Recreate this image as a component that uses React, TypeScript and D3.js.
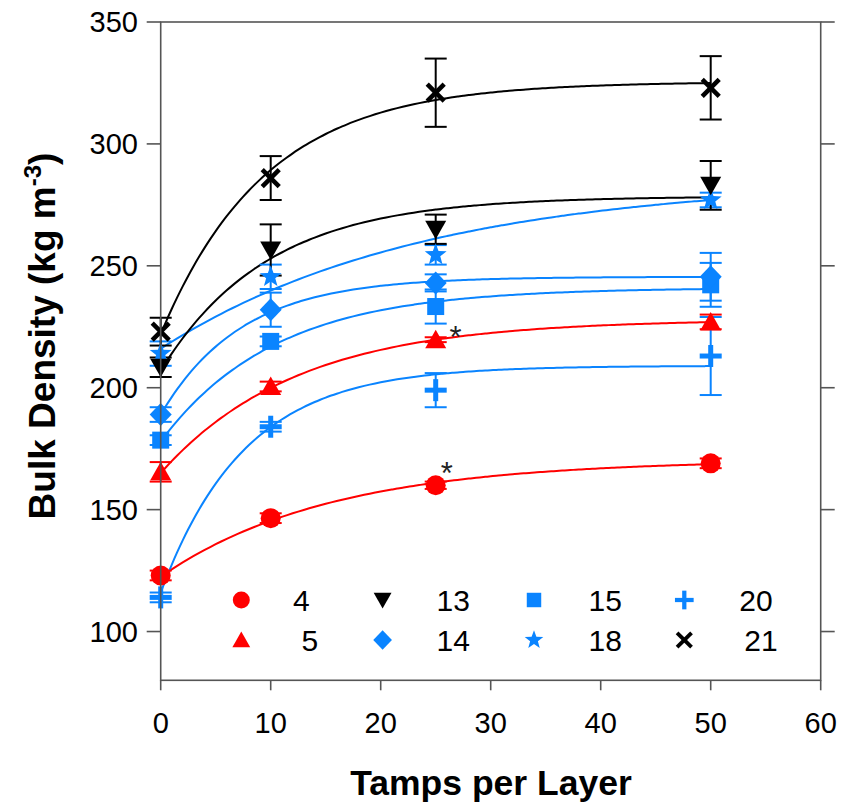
import React from "react";
import * as d3 from "d3";

// ---- data ----
const tamps = [0, 10, 25, 50];
const xTicks = [0, 10, 20, 30, 40, 50, 60];
const yTicks = [100, 150, 200, 250, 300, 350];

const mean4 = [123, 146.5, 160, 169];
const err4 = [2, 2, 1.5, 2];
const fit4 = [122.5, 48, 0.065];

const mean5 = [165.5, 200.5, 219.7, 227];
const err5 = [4, 2, 1, 3];
const fit5 = [165, 63, 0.081];

const mean13 = [208.4, 256.5, 265, 283];
const err13 = [4, 10.5, 6, 10];
const fit13 = [207, 71.5, 0.103];

const mean14 = [189, 232, 243, 245.5];
const err14 = [3, 7, 3.5, 9.8];
const fit14 = [189, 56.5, 0.136];

const mean15 = [178.5, 219, 233.3, 242.2];
const err15 = [2, 2, 7, 9];
const fit15 = [178, 63, 0.096];

const mean18 = [214, 245.5, 254.5, 277];
const err18 = [5, 5, 4, 3];
const fit18 = [216, 69.5, 0.042];

const mean20 = [114, 184, 199, 213];
const err20 = [2, 2, 7, 16];
const fit20 = [116, 93, 0.131];

const mean21 = [223, 286, 321, 323];
const err21 = [5.7, 9, 14, 13];
const fit21 = [222, 103.5, 0.105];

const seriesLabels = ["4", "5", "13", "14", "15", "18", "20", "21"];
const asterisks = [
  { x: 26.8, y: 222.8 },
  { x: 26.0, y: 167.0 },
];

// ---- styles ----
const RED = "#ff0000";
const BLUE = "#0a84ff";
const BLACK = "#000000";

type Shape = "circle" | "triUp" | "triDown" | "diamond" | "square" | "star" | "plus" | "cross";

const seriesData = [
  { label: "4", mean: mean4, err: err4, fit: fit4, color: RED, shape: "circle" as Shape },
  { label: "5", mean: mean5, err: err5, fit: fit5, color: RED, shape: "triUp" as Shape },
  { label: "20", mean: mean20, err: err20, fit: fit20, color: BLUE, shape: "plus" as Shape },
  { label: "15", mean: mean15, err: err15, fit: fit15, color: BLUE, shape: "square" as Shape },
  { label: "14", mean: mean14, err: err14, fit: fit14, color: BLUE, shape: "diamond" as Shape },
  { label: "18", mean: mean18, err: err18, fit: fit18, color: BLUE, shape: "star" as Shape },
  { label: "13", mean: mean13, err: err13, fit: fit13, color: BLACK, shape: "triDown" as Shape },
  { label: "21", mean: mean21, err: err21, fit: fit21, color: BLACK, shape: "cross" as Shape },
];

const legendRows = [
  ["4", "13", "15", "20"],
  ["5", "14", "18", "21"],
];

const W = 841;
const H = 809;
const X0 = 160.7, X1 = 820.7, Y0 = 680.3, Y1 = 22;
const FONT = "Liberation Sans, Arial, Helvetica, sans-serif";

const x = d3.scaleLinear().domain([0, 60]).range([X0, X1]);
const y = d3.scaleLinear().domain([80, 350]).range([Y0, Y1]);

function Marker({ shape, color, cx, cy, k = 1 }: { shape: Shape; color: string; cx: number; cy: number; k?: number }) {
  const t = `translate(${cx},${cy}) scale(${k})`;
  switch (shape) {
    case "circle":
      return <circle transform={t} r={10} fill={color} />;
    case "triUp":
      return <path transform={t} d="M0,-10 L10.5,8.5 L-10.5,8.5 Z" fill={color} />;
    case "triDown":
      return <path transform={t} d="M0,10 L10.5,-8.5 L-10.5,-8.5 Z" fill={color} />;
    case "square":
      return <rect transform={t} x={-8.5} y={-8.5} width={17} height={17} fill={color} />;
    case "diamond":
      return <path transform={t} d="M0,-11.5 L11,0 L0,11.5 L-11,0 Z" fill={color} />;
    case "star": {
      const pts: string[] = [];
      for (let i = 0; i < 10; i++) {
        const r = i % 2 === 0 ? 11.5 : 4.8;
        const a = -Math.PI / 2 + (i * Math.PI) / 5;
        pts.push(`${(r * Math.cos(a)).toFixed(2)},${(r * Math.sin(a)).toFixed(2)}`);
      }
      return <path transform={t} d={`M${pts.join("L")}Z`} fill={color} />;
    }
    case "plus":
      return (
        <g transform={t} stroke={color} strokeWidth={5}>
          <line x1={-11} x2={11} y1={0} y2={0} />
          <line x1={0} x2={0} y1={-11} y2={11} />
        </g>
      );
    case "cross":
      return (
        <g transform={t} stroke={color} strokeWidth={4.5}>
          <line x1={-8.5} x2={8.5} y1={-8.5} y2={8.5} />
          <line x1={-8.5} x2={8.5} y1={8.5} y2={-8.5} />
        </g>
      );
  }
  return null;
}

export default function App() {
  const line = d3
    .line<[number, number]>()
    .x((d) => x(d[0]))
    .y((d) => y(d[1]))
    .curve(d3.curveBasis);

  const fitPath = (fit: number[]) => {
    const [b0, a, k] = fit;
    const pts: [number, number][] = d3.range(0, 50.01, 0.5).map((t) => [t, b0 + a * (1 - Math.exp(-k * t))]);
    return line(pts) || "";
  };

  const byLabel = new Map(seriesData.map((s) => [s.label, s]));
  const legendMarkX = [241.3, 382.6, 534, 684.3];
  const legendTextX: Record<string, number> = {
    "4": 301.4, "5": 309.8, "13": 453.3, "14": 453.3, "15": 605.2, "18": 605.2, "20": 756, "21": 761,
  };
  const legendY = [600, 640];

  const frameColor = "#555";

  return (
    <svg width={W} height={H} style={{ position: "absolute", left: 0, top: 0, background: "#fff" }} fontFamily={FONT}>
      {/* fitted curves */}
      {seriesData.map((s) => (
        <path key={"c" + s.label} d={fitPath(s.fit)} fill="none" stroke={s.color} strokeWidth={2} />
      ))}
      {/* error bars */}
      {seriesData.map((s) => (
        <g key={"e" + s.label} stroke={s.color} strokeWidth={2}>
          {tamps.map((t, i) => {
            const cx = x(t);
            const yt = y(s.mean[i] + s.err[i]);
            const yb = y(s.mean[i] - s.err[i]);
            return (
              <g key={i}>
                <line x1={cx} x2={cx} y1={yt} y2={yb} />
                <line x1={cx - 11} x2={cx + 11} y1={yt} y2={yt} />
                <line x1={cx - 11} x2={cx + 11} y1={yb} y2={yb} />
              </g>
            );
          })}
        </g>
      ))}
      {/* markers */}
      {seriesData.map((s) => (
        <g key={"m" + s.label}>
          {tamps.map((t, i) => (
            <Marker key={i} shape={s.shape} color={s.color} cx={x(t)} cy={y(s.mean[i])} />
          ))}
        </g>
      ))}
      {/* asterisks */}
      {asterisks.map((a, i) => (
        <text key={"a" + i} x={x(a.x)} y={y(a.y) + 16} fontSize={31} textAnchor="middle" fill="#222">
          *
        </text>
      ))}
      {/* frame */}
      <rect x={X0} y={Y1} width={X1 - X0} height={Y0 - Y1} fill="none" stroke={frameColor} strokeWidth={1.6} />
      {yTicks.map((v) => (
        <g key={"yt" + v} stroke={frameColor} strokeWidth={1.6}>
          <line x1={X0 - 14} x2={X0} y1={y(v)} y2={y(v)} />
          <line x1={X1} x2={X1 + 14} y1={y(v)} y2={y(v)} />
        </g>
      ))}
      {xTicks.map((v) => (
        <line key={"xt" + v} x1={x(v)} x2={x(v)} y1={Y0} y2={Y0 + 10} stroke={frameColor} strokeWidth={1.6} />
      ))}
      {yTicks.map((v) => (
        <text key={"yl" + v} x={138} y={y(v) + 10.3} fontSize={29} textAnchor="end" fill="#000">
          {v}
        </text>
      ))}
      {xTicks.map((v) => (
        <text key={"xl" + v} x={x(v)} y={733} fontSize={29} textAnchor="middle" fill="#000">
          {v}
        </text>
      ))}
      {/* titles */}
      <text x={491} y={795} fontSize={35.5} fontWeight="bold" textAnchor="middle" fill="#000">
        Tamps per Layer
      </text>
      <text transform="translate(55,336) rotate(-90)" fontSize={37} fontWeight="bold" textAnchor="middle" fill="#000">
        Bulk Density (kg m<tspan fontSize={24} dy={-14}>-3</tspan>
        <tspan dy={14}>)</tspan>
      </text>
      {/* legend */}
      {legendRows.map((row, r) =>
        row.map((lab, c) => {
          const s = byLabel.get(lab)!;
          return (
            <g key={"lg" + lab}>
              <Marker shape={s.shape} color={s.color} cx={legendMarkX[c]} cy={legendY[r]} k={0.85} />
              <text x={legendTextX[lab]} y={legendY[r] + 10.8} fontSize={30} textAnchor="middle" fill="#000">
                {lab}
              </text>
            </g>
          );
        })
      )}
    </svg>
  );
}
